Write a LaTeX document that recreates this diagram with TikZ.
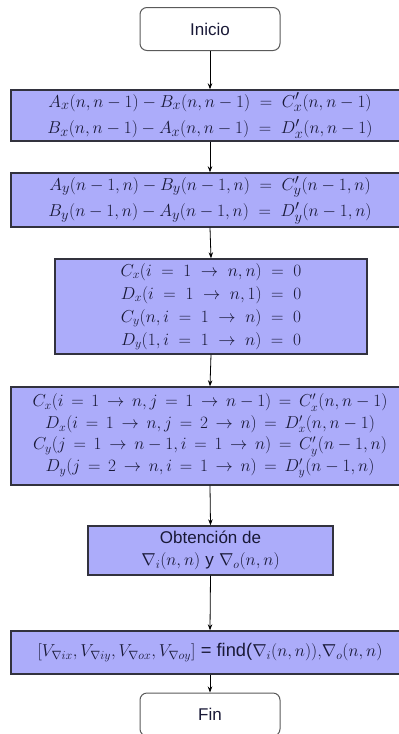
\documentclass[tikz,border=0pt]{standalone}
\usepackage{fontspec}
\setsansfont{Liberation Sans}
\usetikzlibrary{arrows.meta}
\definecolor{boxfill}{RGB}{172,172,250}
\definecolor{boxline}{RGB}{50,50,62}
\definecolor{termline}{RGB}{90,90,90}
\definecolor{ink}{RGB}{25,25,55}
\begin{document}
\begin{tikzpicture}[x=1pt,y=-1pt,
  proc/.style={draw=boxline, line width=1.4pt, fill=boxfill, align=center, inner sep=0pt,
               text=ink, font=\fontsize{18.9}{26.5}\selectfont},
  term/.style={draw=termline, line width=1pt, rounded corners=7pt, fill=white, text=ink,
               font=\sffamily\fontsize{17}{20}\selectfont, minimum width=140pt, minimum height=43pt},
  conn/.style={-{Stealth[length=6pt,width=4.5pt]}, line width=0.8pt}]
\clip (0,0) rectangle (399,734);
\fill[white] (0,0) rectangle (399,734);
\node[term] (ini) at (210,29) {Inicio};
\node[proc, minimum width=398pt, minimum height=51pt] (b1) at (210,115.5)
  {$A_x(n,n-1) - B_x(n,n-1) \;=\; C'_x(n,n-1)$\\
   $B_x(n,n-1) - A_x(n,n-1) \;=\; D'_x(n,n-1)$};
\node[proc, minimum width=398pt, minimum height=54pt] (b2) at (210,200)
  {$A_y(n-1,n) - B_y(n-1,n) \;=\; C'_y(n-1,n)$\\
   $B_y(n-1,n) - A_y(n-1,n) \;=\; D'_y(n-1,n)$};
\node[proc, minimum width=312pt, minimum height=95pt, font=\fontsize{18.5}{23}\selectfont] (b3) at (211,306.5)
  {$C_x(i \;=\; 1 \;\to\; n,n) \;=\; 0$\\
   $D_x(i \;=\; 1 \;\to\; n,1) \;=\; 0$\\
   $C_y(n,i \;=\; 1 \;\to\; n) \;=\; 0$\\
   $D_y(1,i \;=\; 1 \;\to\; n) \;=\; 0$};
\node[proc, minimum width=398pt, minimum height=98pt, font=\fontsize{18.6}{21.5}\selectfont] (b4) at (210,436)
  {$C_x(i\,=\,1\,\to\, n, j\,=\,1\,\to\, n-1) \,=\, C'_x(n,n-1)$\\
   $D_x(i\,=\,1\,\to\, n, j\,=\,2\,\to\, n) \,=\, D'_x(n,n-1)$\\
   $C_y(j\,=\,1\,\to\, n-1, i\,=\,1\,\to\, n) \,=\, C'_y(n-1,n)$\\
   $D_y(j\,=\,2\,\to\, n, i\,=\,1\,\to\, n) \,=\, D'_y(n-1,n)$};
\node[proc, minimum width=245pt, minimum height=49pt, font=\fontsize{17}{22}\selectfont] (b5) at (210.5,550.5)
  {\sffamily Obtención de\\ $\nabla_i(n,n)$ {\sffamily y} $\nabla_o(n,n)$};
\node[proc, minimum width=398pt, minimum height=43pt, font=\fontsize{18.3}{22}\selectfont] (b6) at (210,652.5)
  {$[V_{\nabla ix}, V_{\nabla iy}, V_{\nabla ox}, V_{\nabla oy}]$ {\sffamily = find(}$\nabla_i(n,n))$,$\nabla_o(n,n)$};
\node[term] (fin) at (210,714.5) {Fin};
\draw[conn] (ini.south) -- (b1.north);
\draw[conn] (b1.south) -- (b2.north);
\draw[conn] (b2.south) -- (b3.north);
\draw[conn] (b3.south) -- (b4.north);
\draw[conn] (b4.south) -- (b5.north);
\draw[conn] (b5.south) -- (b6.north);
\draw[conn] (b6.south) -- (fin.north);
\end{tikzpicture}
\end{document}
